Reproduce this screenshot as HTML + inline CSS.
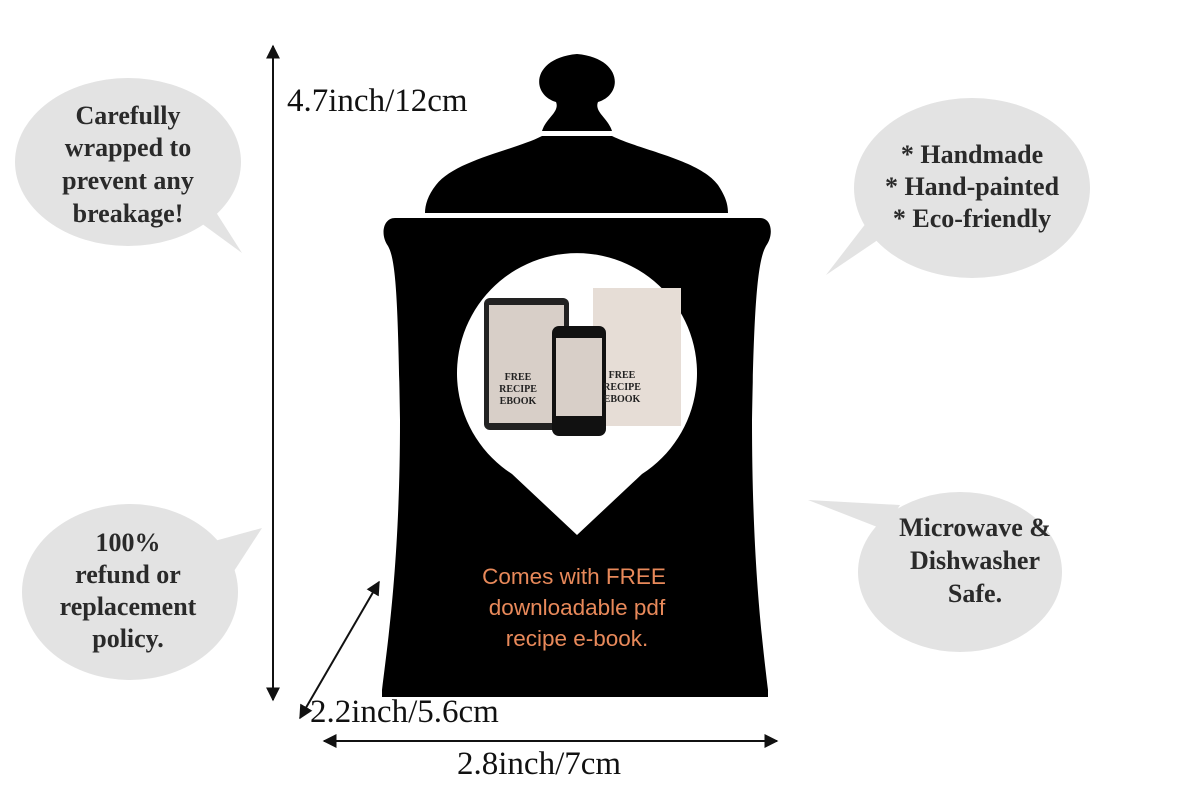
<!DOCTYPE html>
<html><head><meta charset="utf-8"><style>
body{margin:0;background:#fff;}
svg{display:block}
.b{font-family:"Liberation Serif",serif;font-weight:bold;font-size:26px;fill:#2a2a2a;text-anchor:middle}
.d{font-family:"Liberation Serif",serif;font-size:33px;fill:#111}
</style></head><body>
<svg width="1200" height="800" viewBox="0 0 1200 800">
<defs><marker id="a" viewBox="0 0 10 10" refX="9" refY="5" markerWidth="7" markerHeight="7" orient="auto-start-reverse"><path d="M0,0L10,5L0,10z" fill="#111"/></marker></defs>
<g fill="#e3e3e3">
<ellipse cx="128" cy="162" rx="113" ry="84"/><path d="M190,215L242,253L205,195z"/>
<ellipse cx="972" cy="188" rx="118" ry="90"/><path d="M900,225L826,275L880,205z"/>
<ellipse cx="960" cy="572" rx="102" ry="80"/><path d="M885,530L808,500L900,505z"/>
<ellipse cx="130" cy="592" rx="108" ry="88"/><path d="M200,545L262,528L225,585z"/>
</g>
<text class="b"><tspan x="128" y="124">Carefully</tspan><tspan x="128" y="156">wrapped to</tspan><tspan x="128" y="189">prevent any</tspan><tspan x="128" y="222">breakage!</tspan></text>
<text class="b"><tspan x="972" y="163">* Handmade</tspan><tspan x="972" y="195">* Hand-painted</tspan><tspan x="972" y="227">* Eco-friendly</tspan></text>
<text class="b"><tspan x="975" y="536">Microwave &amp;</tspan><tspan x="975" y="569">Dishwasher</tspan><tspan x="975" y="602">Safe.</tspan></text>
<text class="b"><tspan x="128" y="551">100%</tspan><tspan x="128" y="583">refund or</tspan><tspan x="128" y="615">replacement</tspan><tspan x="128" y="647">policy.</tspan></text>
<!-- jar -->
<path d="M542,131C546,118 560,112 556,102C530,94 532,58 577,54C622,58 624,94 598,102C594,112 608,118 612,131z" fill="#000"/>
<path d="M542,136L612,136C640,150 700,160 718,185C726,197 728,205 728,213L425,213C425,205 428,195 436,185C455,160 515,150 542,136z" fill="#000"/>
<path d="M395,218L760,218C772,218 774,235 766,246C758,260 754,300 752,420C752,560 762,640 768,690L768,697L382,697L382,690C388,640 400,560 400,420C398,300 396,260 388,246C380,235 383,218 395,218z" fill="#000"/>
<path d="M577,535L512,474A120,120 0 1 1 642,474z" fill="#fff"/>
<rect x="484" y="298" width="85" height="132" rx="6" fill="#222"/>
<rect x="489" y="305" width="75" height="118" fill="#d8cfc8"/>
<rect x="593" y="288" width="88" height="138" fill="#e6ddd6"/>
<rect x="552" y="326" width="54" height="110" rx="7" fill="#111"/>
<rect x="556" y="338" width="46" height="78" fill="#d8cfc8"/>
<text font-family="Liberation Serif,serif" font-size="10" font-weight="bold" fill="#222" text-anchor="middle"><tspan x="518" y="380">FREE</tspan><tspan x="518" y="392">RECIPE</tspan><tspan x="518" y="404">EBOOK</tspan><tspan x="622" y="378">FREE</tspan><tspan x="622" y="390">RECIPE</tspan><tspan x="622" y="402">EBOOK</tspan></text>
<text font-family="Liberation Sans,sans-serif" font-size="22.5" fill="#e8895a" text-anchor="middle"><tspan x="574" y="584">Comes with FREE</tspan><tspan x="577" y="615">downloadable pdf</tspan><tspan x="577" y="646">recipe e-book.</tspan></text>
<g stroke="#111" stroke-width="2">
<line x1="273" y1="46" x2="273" y2="700" marker-start="url(#a)" marker-end="url(#a)"/>
<line x1="300" y1="718" x2="379" y2="582" marker-start="url(#a)" marker-end="url(#a)"/>
<line x1="324" y1="741" x2="777" y2="741" marker-start="url(#a)" marker-end="url(#a)"/>
</g>
<text class="d" x="287" y="111">4.7inch/12cm</text>
<text class="d" x="310" y="722" font-size="27">2.2inch/5.6cm</text>
<text class="d" x="457" y="774" font-size="36">2.8inch/7cm</text>
</svg>
</body></html>
